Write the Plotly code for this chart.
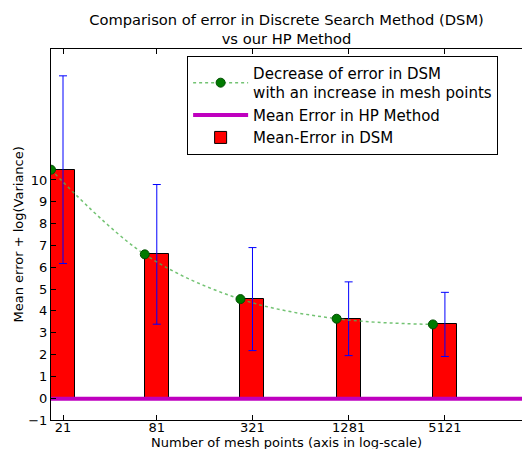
import numpy as np
import plotly.graph_objects as go

mesh_points = [21, 81, 321, 1281, 5121]
mean_error_dsm = [10.47, 6.59, 4.54, 3.64, 3.38]
error_spread = [4.3, 3.2, 2.36, 1.69, 1.47]
hp_mean_error = -0.03
y_ticks = [-1, 0, 1, 2, 3, 4, 5, 6, 7, 8, 9, 10]

FONT = "DejaVu Sans"
centers = np.log10(mesh_points)
bar_w = 0.15
left_edges = centers - bar_w / 2
x_min = centers[0] - bar_w / 2
x_max = x_min + 2.944

fig = go.Figure()
fig.add_trace(go.Bar(
    x=centers, y=mean_error_dsm, width=bar_w,
    marker=dict(color="#ff0000", line=dict(color="black", width=1)),
    error_y=dict(type="data", array=error_spread, color="#0000ff", thickness=1, width=4),
    name="Mean-Error in DSM", legendrank=3,
))
fig.add_trace(go.Scatter(
    x=[x_min, x_max], y=[hp_mean_error, hp_mean_error], mode="lines",
    line=dict(color="#bf00bf", width=4),
    name="Mean Error in HP Method", legendrank=2,
))
fig.add_trace(go.Scatter(
    x=left_edges, y=mean_error_dsm, mode="lines+markers",
    line=dict(color="rgba(80,180,80,0.8)", width=1.5, dash="dot", shape="spline"),
    marker=dict(color="#007a00", size=9, line=dict(color="#004d00", width=1)),
    name="Decrease of error in DSM<br>with an increase in mesh points", legendrank=1,
))

fig.update_layout(
    width=522, height=449,
    margin=dict(l=51, r=0, t=49, b=29, autoexpand=False),
    paper_bgcolor="white", plot_bgcolor="white",
    font=dict(family=FONT, size=13, color="black"),
    title=dict(text="Comparison of error in Discrete Search Method (DSM)<br>vs our HP Method",
               x=0.5, xref="paper", xanchor="center", yref="container", y=1 - 25 / 449,
               yanchor="middle", font=dict(size=14.7, family=FONT)),
    showlegend=True,
    legend=dict(x=0.289, y=0.982, xanchor="left", yanchor="top",
                bgcolor="white", bordercolor="black", borderwidth=1, itemwidth=55,
                font=dict(size=15, family=FONT), tracegroupgap=0),
    bargap=0,
    annotations=[
        dict(text="Number of mesh points (axis in log-scale)", xref="paper", yref="paper",
             x=0.5, y=-22 / 371, xanchor="center", yanchor="middle", showarrow=False,
             font=dict(size=13, family=FONT)),
        dict(text="Mean error + log(Variance)", xref="paper", yref="paper",
             x=-33 / 471, y=0.5, xanchor="center", yanchor="middle", showarrow=False,
             textangle=-90, font=dict(size=13, family=FONT)),
    ],
)
fig.update_xaxes(
    range=[x_min, x_max], tickvals=list(centers), ticktext=[str(m) for m in mesh_points],
    ticks="inside", ticklen=5, tickcolor="black", showline=True, linecolor="black",
    linewidth=1, mirror="ticks", showgrid=False, zeroline=False, automargin=False,
    tickfont=dict(size=13), ticklabelstandoff=-5,
)
fig.update_yaxes(
    range=[-1, 16], tickvals=y_ticks, ticktext=[("\u2212" + str(-v)) if v < 0 else str(v) for v in y_ticks],
    ticks="inside", ticklen=5, tickcolor="black", showline=True, linecolor="black",
    linewidth=1, mirror=False, showgrid=False, zeroline=False, automargin=False,
    tickfont=dict(size=13),
)
fig.write_html("out.html", config={"displayModeBar": False},
               post_script="document.body.style.margin='0';document.body.style.overflow='hidden';")
